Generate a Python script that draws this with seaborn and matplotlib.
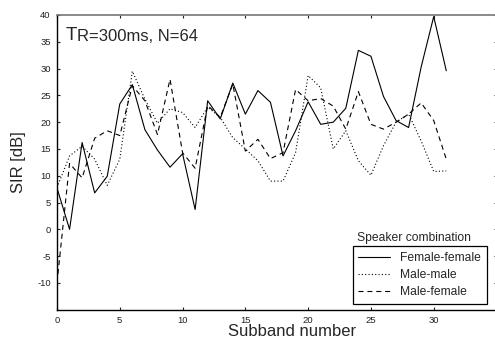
import numpy as np
import pandas as pd
import matplotlib
matplotlib.use("Agg")
import matplotlib.pyplot as plt
import seaborn as sns

subbands = list(range(32))
female_female = [7.7, 0.0, 16.2, 6.8, 9.9, 23.4, 27.0, 18.6, 14.8, 11.6, 14.1, 3.7,
                 24.0, 20.6, 27.3, 21.5, 25.9, 23.7, 13.7, 18.4, 23.8, 19.6, 20.0, 22.6,
                 33.4, 32.3, 24.8, 20.3, 19.0, 30.3, 39.7, 29.6]
male_male = [7.8, 13.7, 15.5, 13.1, 8.2, 13.1, 29.5, 24.3, 19.8, 22.5, 21.8, 19.0,
             22.8, 20.9, 17.1, 15.0, 12.8, 9.0, 9.0, 14.3, 28.7, 26.4, 15.0, 18.4,
             12.8, 10.1, 15.6, 20.0, 21.5, 16.5, 10.8, 10.9]
male_female = [-10.0, 12.3, 9.6, 17.0, 18.4, 17.5, 26.8, 24.0, 17.7, 28.0, 14.3, 11.4,
               23.1, 20.9, 27.1, 14.6, 16.8, 13.2, 14.3, 26.1, 24.0, 24.4, 23.0, 18.7,
               25.7, 19.6, 18.7, 20.0, 21.5, 23.6, 20.3, 13.1]
series_labels = ["Female-female", "Male-male", "Male-female"]
xticks = [0, 5, 10, 15, 20, 25, 30]
yticks = [-10, -5, 0, 5, 10, 15, 20, 25, 30, 35, 40]

sns.set_theme(style="ticks")
plt.rcParams["font.family"] = ["Liberation Sans", "DejaVu Sans"]
plt.rcParams["axes.unicode_minus"] = False

W, H = 495, 342
fig = plt.figure(figsize=(W / 100, H / 100), dpi=100)
ax = fig.add_axes([57 / W, 1 - 309.7 / H, (496.5 - 57) / W, (309.7 - 15) / H])

styles = ["-", (0, (1, 2)), (0, (4.5, 3.5))]
for lab, vals, ls in zip(series_labels, [female_female, male_male, male_female], styles):
    sns.lineplot(x=subbands, y=vals, ax=ax, color="black", linewidth=0.8,
                 linestyle=ls, label=lab, legend=False)

ax.set_xlim(0, 35)
ax.set_ylim(-15, 40)
ax.set_xticks(xticks)
ax.set_yticks(yticks)
ax.tick_params(direction="in", length=2.5, width=0.8, labelsize=6.8,
               colors="#222222", top=True, right=True, pad=4.5)
for s in ["left", "bottom", "right"]:
    ax.spines[s].set_color("black")
    ax.spines[s].set_linewidth(1.0)
ax.spines["top"].set_color("#777777")
ax.spines["top"].set_linewidth(1.2)

ax.set_xlabel("")
ax.set_ylabel("")
fig.text(292 / W, 1 - 331 / H, "Subband number", ha="center", va="center", fontsize=12)
fig.text(18 / W, 1 - 162 / H, "SIR [dB]", ha="center", va="center", rotation=90, fontsize=12)

t1 = fig.text(65.5 / W, 1 - 44 / H, "T", ha="left", va="bottom", fontsize=13.5)
ax.annotate("R=300ms, N=64", xy=(1, 0), xycoords=t1, ha="left", va="bottom", fontsize=12)

leg = ax.legend(loc="lower right", bbox_to_anchor=(486.7 / W, 1 - 304 / H),
                bbox_transform=fig.transFigure, borderaxespad=0, fontsize=8.7,
                frameon=True, fancybox=False, edgecolor="black", framealpha=1,
                handlelength=2.6, handletextpad=0.85, labelspacing=0.42,
                borderpad=0.47)
leg.get_frame().set_linewidth(0.9)
fig.text(413.5 / W, 1 - 237.7 / H, "Speaker combination", ha="center", va="center",
         fontsize=8.7)

fig.savefig("out.png", dpi=100)
